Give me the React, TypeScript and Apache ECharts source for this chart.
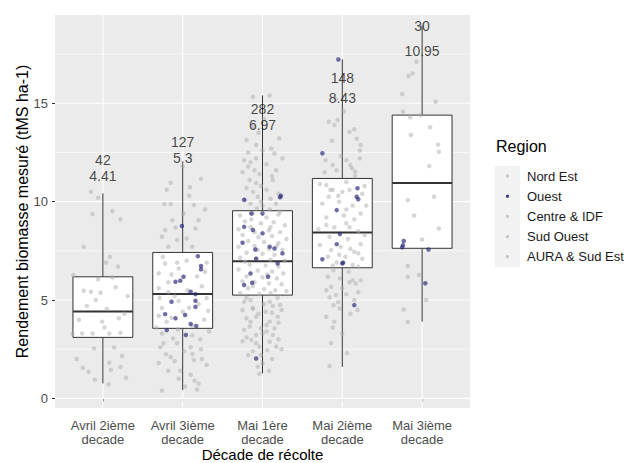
import React, { useEffect, useRef } from "react";
import * as echarts from "echarts";

// ---------- DATA ----------
const categories = [
  "Avril 2ième\ndecade",
  "Avril 3ième\ndecade",
  "Mai 1ère\ndecade",
  "Mai 2ième\ndecade",
  "Mai 3ième\ndecade",
];
const counts = [42, 127, 282, 148, 30];
const medians = [4.41, 5.3, 6.97, 8.43, 10.95];
const q1Values = [3.1, 3.56, 5.25, 6.64, 7.63];
const q3Values = [6.18, 7.42, 9.54, 11.18, 14.4];
const whiskerLow = [0.76, 0.42, 1.27, 1.6, 3.9];
const whiskerHigh = [10.42, 11.95, 15.4, 17.23, 18.95];
const countLabelY = [12.12, 13.02, 14.72, 16.27, 18.93];
const medianLabelY = [11.3, 12.2, 13.9, 15.25, 17.68];

const yTicks = [0, 5, 10, 15];
const yMinor = [2.5, 7.5, 12.5, 17.5];
const regions = ["Nord Est", "Ouest", "Centre & IDF", "Sud Ouest", "AURA & Sud Est"];
const xTitle = "Décade de récolte";
const yTitle = "Rendement biomasse mesuré (tMS ha-1)";
const legendTitle = "Region";

// jittered points: [horizontal jitter offset, yield]
const avril2Grey: [number, number][] = [
  [-0.15, 10.5], [-0.06, 10.2], [-0.13, 9.37], [0.12, 9.52], [0.22, 9.1], [-0.24, 7.7],
  [0.09, 7.2], [0.04, 6.9], [0.19, 6.7], [-0.37, 6.27], [0.12, 6.15], [-0.24, 5.47],
  [-0.15, 5.42], [-0.03, 5.37], [-0.09, 5.0], [0.2, 4.07], [-0.01, 3.9], [-0.38, 3.27],
  [-0.26, 3.3], [-0.13, 3.3], [0.08, 3.3], [0.22, 3.33], [-0.11, 2.54], [0.14, 2.59],
  [0.24, 2.15], [0.08, 1.81], [-0.25, 1.56], [-0.18, 1.35], [0.1, 1.44], [0.22, 1.6],
  [0.07, 0.71], [0.05, 4.55], [-0.2, 4.7], [0.27, 4.3], [-0.3, 4.0], [0.16, 5.65],
  [-0.06, 6.05], [0.31, 5.2], [-0.33, 2.0], [0.29, 1.05], [-0.1, 0.95], [0.02, 3.6],
];
const avril3Grey: [number, number][] = [
  [-0.15, 10.96], [0.23, 11.16], [0.09, 10.73], [-0.23, 9.88], [-0.15, 9.88], [0.14, 9.83],
  [0.01, 9.4], [-0.13, 9.06], [0.2, 9.06], [-0.22, 8.56], [-0.09, 8.69], [0.16, 8.64],
  [-0.26, 8.22], [-0.07, 8.05], [0.05, 8.13], [-0.18, 7.71], [0.12, 7.71], [-0.22, 6.86],
  [-0.07, 6.9], [0.28, 6.44], [-0.3, 6.36], [-0.14, 6.3], [-0.18, 5.9], [-0.29, 5.1],
  [-0.05, 4.95], [0.08, 4.6], [0.32, 4.45], [-0.3, 4.2], [-0.14, 4.1], [-0.26, 3.3],
  [-0.12, 3.05], [0.12, 3.2], [-0.24, 2.8], [-0.07, 2.8], [0.1, 2.6], [0.23, 2.5],
  [-0.21, 2.25], [0.12, 2.25], [-0.1, 1.9], [0.14, 1.95], [0.24, 2.0], [-0.18, 1.4],
  [-0.03, 1.4], [0.1, 1.2], [-0.26, 0.4], [0.03, 0.6], [0.18, 0.45], [0.2, 0.75],
  [0.05, 7.0], [-0.25, 7.2], [0.3, 6.9], [-0.05, 6.6], [0.18, 6.2], [-0.3, 5.6],
  [0.24, 5.7], [-0.18, 5.4], [0.06, 5.5], [0.3, 5.1], [-0.1, 5.2], [0.2, 4.8],
  [-0.26, 4.6], [0.0, 4.4], [0.27, 4.0], [-0.2, 3.9], [0.12, 3.7], [-0.33, 3.6],
  [0.33, 3.4], [-0.06, 3.5], [0.22, 3.0], [-0.28, 2.6], [0.02, 2.4], [-0.15, 2.1],
  [0.3, 1.7], [-0.05, 1.0], [0.15, 0.9], [-0.3, 1.8], [0.08, 10.3], [-0.2, 10.6],
  [0.28, 9.6], [0.0, 11.8],
];
const avril3Blue: [number, number][] = [
  [-0.01, 8.76], [0.19, 7.23], [0.23, 6.73], [0.23, 6.56], [0.01, 6.18], [-0.09, 5.93],
  [-0.03, 5.98], [0.1, 5.42], [0.16, 5.3], [-0.14, 4.91], [0.16, 4.96], [0.16, 4.65],
  [-0.22, 4.28], [0.03, 4.24], [-0.09, 4.07], [0.1, 3.78], [0.17, 3.68], [-0.2, 3.47],
  [0.04, 3.22],
];
const mai1Grey: [number, number][] = [
  [-0.12, 15.33], [0.09, 15.4], [-0.2, 13.13], [0.21, 13.22], [-0.08, 12.88], [0.11, 12.7],
  [-0.23, 12.11], [-0.15, 12.0], [-0.08, 12.2], [0.15, 12.45], [0.25, 12.2], [-0.18, 11.78],
  [-0.1, 11.6], [-0.25, 11.5], [-0.04, 11.4], [0.17, 11.6], [-0.16, 11.1], [-0.08, 10.95],
  [-0.02, 10.8], [0.13, 11.1], [-0.2, 10.7], [-0.12, 10.5], [0.05, 10.6], [-0.06, 10.25],
  [0.1, 10.15], [-0.15, 9.9], [0.0, 9.8], [0.17, 9.9], [-0.07, 9.65], [0.09, 9.6],
  [-0.05, 13.5], [0.02, 14.2], [-0.18, 12.5], [0.05, 11.9], [0.2, 10.4], [-0.22, 10.1],
  [0.0, 12.6], [-0.12, 13.8], [0.12, 11.3], [-0.02, 10.0],
  [-0.28, 9.3], [-0.12, 9.4], [0.05, 9.2], [0.2, 9.35], [-0.22, 9.0], [-0.02, 8.9],
  [0.14, 8.95], [0.28, 8.8], [-0.3, 8.6], [-0.15, 8.7], [0.08, 8.55], [0.22, 8.45],
  [-0.25, 8.3], [-0.05, 8.2], [0.12, 8.25], [0.3, 8.1], [-0.18, 8.0], [0.02, 7.95],
  [0.2, 7.9], [-0.3, 7.7], [-0.1, 7.75], [0.08, 7.6], [0.25, 7.55], [-0.2, 7.4],
  [0.0, 7.35], [0.15, 7.3], [-0.28, 7.15], [-0.08, 7.1], [0.1, 7.05], [0.28, 7.0],
  [-0.16, 6.8], [0.04, 6.75], [0.2, 6.7], [-0.3, 6.55], [-0.06, 6.5], [0.12, 6.45],
  [0.26, 6.35], [-0.2, 6.2], [0.0, 6.15], [0.18, 6.1], [-0.25, 5.95], [-0.1, 5.9],
  [0.08, 5.85], [0.24, 5.8], [-0.18, 5.6], [0.02, 5.55], [0.16, 5.5], [0.3, 5.45],
  [-0.28, 5.35], [-0.04, 5.3], [0.1, 5.35], [-0.14, 9.1], [0.1, 8.7], [-0.1, 8.45],
  [0.18, 7.75], [-0.22, 6.95], [0.06, 6.3], [-0.12, 5.7], [0.22, 9.5], [-0.06, 7.55],
  [-0.23, 4.91], [-0.15, 5.0], [0.09, 4.91], [0.19, 5.1], [-0.25, 4.49], [-0.12, 4.6],
  [0.13, 4.7], [0.24, 4.49], [-0.2, 4.07], [-0.08, 4.15], [0.09, 3.9], [0.19, 4.15],
  [-0.16, 3.65], [0.05, 3.73], [0.15, 3.56], [-0.23, 3.48], [-0.08, 3.22], [0.13, 3.22],
  [-0.14, 2.97], [0.09, 2.88], [-0.04, 2.63], [0.17, 2.63], [-0.02, 2.2], [0.24, 2.5],
  [0.0, 1.78], [-0.04, 1.25], [-0.12, 2.4], [0.05, 3.4],
  [-0.2, 5.1], [0.02, 4.8], [0.22, 4.75], [-0.05, 4.3], [0.04, 4.4], [-0.15, 3.9],
  [0.2, 3.85], [-0.02, 3.55], [-0.2, 3.1], [0.2, 3.0], [-0.08, 2.8], [0.06, 2.45],
  [-0.18, 2.2], [0.12, 2.0], [-0.06, 1.6], [0.08, 1.4], [-0.12, 4.55], [0.12, 4.35],
  [0.0, 3.3], [-0.25, 2.9],
];
const mai1Blue: [number, number][] = [
  [-0.23, 10.09], [0.22, 10.22], [0.23, 10.3], [-0.14, 9.4], [0.0, 9.4], [-0.23, 8.72],
  [-0.12, 8.56], [0.0, 8.39], [-0.25, 7.91], [-0.09, 7.57], [0.09, 7.71], [0.15, 7.62],
  [0.25, 7.37], [-0.08, 7.1], [0.19, 6.86], [-0.15, 6.35], [0.07, 6.18], [-0.23, 5.76],
  [-0.13, 5.88], [-0.08, 2.03],
];
const mai2Grey: [number, number][] = [
  [-0.17, 14.06], [-0.06, 14.15], [0.15, 13.68], [0.09, 13.55], [-0.13, 13.1], [0.23, 12.88],
  [0.22, 12.6], [-0.21, 12.11], [-0.02, 12.32], [-0.12, 11.86], [0.05, 12.11], [0.1, 11.86],
  [-0.07, 11.6], [0.16, 11.52], [0.16, 11.3], [-0.2, 10.84], [-0.12, 10.59], [0.0, 10.5],
  [0.09, 10.6], [-0.17, 10.25], [-0.04, 10.0], [0.13, 9.8], [0.23, 9.4], [0.05, 9.6],
  [-0.2, 8.81], [-0.1, 8.7], [0.09, 8.7], [0.2, 8.5], [-0.16, 8.21], [0.07, 8.1],
  [0.23, 7.84], [-0.14, 7.54], [0.15, 7.45], [0.2, 7.37], [-0.18, 7.2], [0.04, 7.2],
  [-0.07, 6.9], [0.13, 6.78], [-0.11, 6.52], [0.08, 6.44], [-0.18, 6.18], [-0.03, 6.1],
  [0.13, 6.0], [0.23, 6.0], [-0.14, 5.67], [0.0, 5.59], [0.17, 5.84], [0.09, 5.9],
  [-0.16, 5.13], [-0.08, 5.25], [-0.11, 4.74], [-0.03, 4.57], [-0.2, 4.15], [0.19, 4.49],
  [-0.16, 1.64],
  [-0.28, 10.9], [0.28, 10.8], [-0.05, 10.3], [0.25, 10.4], [-0.25, 9.9], [0.02, 9.3],
  [-0.2, 9.2], [0.15, 9.1], [-0.3, 8.6], [0.28, 8.3], [-0.02, 7.7], [0.1, 7.6],
  [-0.28, 7.8], [0.25, 7.1], [-0.04, 7.3], [0.2, 6.7], [-0.12, 6.75], [0.05, 8.9],
  [0.3, 9.8], [-0.15, 10.6],
  [0.05, 5.3], [-0.2, 5.5], [0.2, 5.4], [-0.05, 4.9], [0.1, 4.3], [-0.1, 3.9],
  [0.0, 3.3], [-0.14, 2.8], [0.06, 2.3], [-0.12, 3.6], [0.15, 5.0],
  [0.02, 14.6], [-0.1, 13.9], [0.18, 13.2], [-0.22, 11.5], [0.05, 11.0], [0.22, 12.2],
  [-0.08, 15.2], [0.12, 11.7],
];
const mai2Blue: [number, number][] = [
  [-0.05, 17.23], [-0.25, 12.46], [0.19, 10.68], [0.18, 10.25], [0.2, 10.12], [-0.07, 9.57],
  [-0.03, 8.35], [-0.07, 7.84], [-0.25, 7.07], [0.0, 6.86], [0.15, 4.74], [0.01, 6.9],
];
const mai3Grey: [number, number][] = [
  [-0.07, 17.11], [-0.12, 16.52], [-0.17, 16.39], [-0.25, 15.47], [0.17, 15.08], [-0.24, 14.57],
  [-0.15, 14.29], [-0.02, 14.4], [0.1, 13.78], [-0.14, 13.39], [0.21, 12.54], [0.09, 11.81],
  [-0.18, 10.08], [0.15, 10.25], [0.21, 8.64], [0.0, 8.08], [-0.18, 6.73], [-0.18, 6.18],
  [-0.04, 6.27], [-0.23, 4.52], [-0.18, 3.89], [0.0, 18.95], [0.2, 12.9], [-0.1, 9.3],
  [0.05, 5.0],
];
const mai3Blue: [number, number][] = [
  [-0.23, 8.0], [-0.24, 7.79], [-0.25, 7.68], [0.08, 7.57], [0.04, 5.85],
];

const greyGroups = [avril2Grey, avril3Grey, mai1Grey, mai2Grey, mai3Grey];
const blueGroups: [number, number][][] = [[], avril3Blue, mai1Blue, mai2Blue, mai3Blue];

// ---------- STYLE ----------
const FONT = "Liberation Sans, Arial, sans-serif";
const GREY_PT = "rgba(172,172,172,0.62)";
const BLUE_PT = "rgba(42,42,122,0.85)";

export default function App() {
  const ref = useRef<HTMLDivElement>(null);

  useEffect(() => {
    if (!ref.current) return;
    const chart = echarts.init(ref.current, undefined, { renderer: "svg" });

    const toPoints = (groups: [number, number][][]) =>
      groups.flatMap((g, i) => g.map(([dx, y]) => [i + 1 + dx, y]));

    const boxData = categories.map((_, i) => [
      i + 1,
      whiskerLow[i],
      q1Values[i],
      medians[i],
      q3Values[i],
      whiskerHigh[i],
    ]);

    const labelData = [
      ...categories.map((_, i) => [i + 1, countLabelY[i], String(counts[i])]),
      ...categories.map((_, i) => [i + 1, medianLabelY[i], String(medians[i])]),
    ];

    const option: any = {
      animation: false,
      grid: {
        left: 55,
        top: 15,
        width: 415,
        height: 393,
        show: true,
        backgroundColor: "#EBEBEB",
        borderWidth: 0,
        containLabel: false,
        outerBoundsMode: "none",
      },
      xAxis: {
        type: "value",
        min: 0.4,
        max: 5.6,
        axisLine: { show: false },
        splitLine: { show: false },
        axisTick: {
          show: true,
          customValues: [1, 2, 3, 4, 5],
          length: 3,
          lineStyle: { color: "#333333", width: 1 },
        },
        axisLabel: {
          customValues: [1, 2, 3, 4, 5],
          formatter: (v: number) => categories[Math.round(v) - 1] ?? "",
          color: "#4D4D4D",
          fontSize: 13,
          fontFamily: FONT,
          lineHeight: 14,
          margin: 10,
        },
      },
      yAxis: {
        type: "value",
        min: -0.49,
        max: 19.49,
        axisLine: { show: false },
        splitLine: { show: false },
        axisTick: {
          show: true,
          customValues: yTicks,
          length: 3,
          lineStyle: { color: "#333333", width: 1 },
        },
        axisLabel: {
          customValues: yTicks,
          color: "#4D4D4D",
          fontSize: 13,
          fontFamily: FONT,
          margin: 7,
        },
      },
      series: [
        {
          type: "custom",
          z: 1,
          silent: true,
          data: [[1, 0]],
          renderItem: (params: any, api: any) => {
            const cs = params.coordSys;
            const children: any[] = [];
            yMinor.forEach((v) => {
              const y = api.coord([1, v])[1];
              children.push({
                type: "line",
                shape: { x1: cs.x, y1: y, x2: cs.x + cs.width, y2: y },
                style: { stroke: "#FFFFFF", lineWidth: 0.6 },
              });
            });
            yTicks.forEach((v) => {
              const y = api.coord([1, v])[1];
              children.push({
                type: "line",
                shape: { x1: cs.x, y1: y, x2: cs.x + cs.width, y2: y },
                style: { stroke: "#FFFFFF", lineWidth: 1.1 },
              });
            });
            categories.forEach((_, i) => {
              const x = api.coord([i + 1, 0])[0];
              children.push({
                type: "line",
                shape: { x1: x, y1: cs.y, x2: x, y2: cs.y + cs.height },
                style: { stroke: "#FFFFFF", lineWidth: 1.1 },
              });
            });
            return { type: "group", children };
          },
        },
        {
          type: "custom",
          z: 2,
          silent: true,
          data: boxData,
          encode: { x: 0, y: [1, 2, 3, 4, 5] },
          renderItem: (_params: any, api: any) => {
            const x = api.value(0);
            const pLow = api.coord([x, api.value(1)]);
            const pQ1 = api.coord([x, api.value(2)]);
            const pMed = api.coord([x, api.value(3)]);
            const pQ3 = api.coord([x, api.value(4)]);
            const pHigh = api.coord([x, api.value(5)]);
            const half = api.size([0.75, 0])[0] / 2;
            const cx = pMed[0];
            const stroke = "#333333";
            return {
              type: "group",
              children: [
                {
                  type: "line",
                  shape: { x1: cx, y1: pHigh[1], x2: cx, y2: pQ3[1] },
                  style: { stroke, lineWidth: 1 },
                },
                {
                  type: "line",
                  shape: { x1: cx, y1: pQ1[1], x2: cx, y2: pLow[1] },
                  style: { stroke, lineWidth: 1 },
                },
                {
                  type: "rect",
                  shape: { x: cx - half, y: pQ3[1], width: half * 2, height: pQ1[1] - pQ3[1] },
                  style: { fill: "#FFFFFF", stroke, lineWidth: 1 },
                },
                {
                  type: "line",
                  shape: { x1: cx - half, y1: pMed[1], x2: cx + half, y2: pMed[1] },
                  style: { stroke, lineWidth: 2 },
                },
              ],
            };
          },
        },
        {
          type: "scatter",
          name: "Autres régions",
          z: 3,
          silent: true,
          symbolSize: 4.5,
          itemStyle: { color: GREY_PT },
          data: toPoints(greyGroups),
        },
        {
          type: "scatter",
          name: "Ouest",
          z: 4,
          silent: true,
          symbolSize: 4.5,
          itemStyle: { color: BLUE_PT },
          data: toPoints(blueGroups),
        },
        {
          type: "scatter",
          z: 5,
          silent: true,
          symbolSize: 1,
          itemStyle: { color: "rgba(0,0,0,0)" },
          data: labelData,
          label: {
            show: true,
            position: "inside",
            formatter: (p: any) => p.value[2],
            color: "#1A1A1A",
            fontSize: 14,
            lineHeight: 12,
            fontFamily: FONT,
          },
        },
      ],
      graphic: [
        {
          type: "text",
          x: 262.5,
          y: 454,
          style: {
            text: xTitle,
            fill: "#000",
            fontSize: 15,
            fontFamily: FONT,
            align: "center",
            verticalAlign: "middle",
          },
        },
        {
          type: "text",
          x: 22,
          y: 211.5,
          rotation: Math.PI / 2,
          style: {
            text: yTitle,
            fill: "#000",
            fontSize: 16,
            fontFamily: FONT,
            align: "center",
            verticalAlign: "middle",
          },
        },
        {
          type: "text",
          x: 496,
          y: 146,
          style: {
            text: legendTitle,
            fill: "#000",
            fontSize: 16,
            fontFamily: FONT,
            verticalAlign: "middle",
            align: "left",
          },
        },
        {
          type: "rect",
          shape: { x: 495, y: 166, width: 25, height: 101 },
          style: { fill: "#F2F2F2" },
        },
        ...regions.flatMap((r, i) => {
          const cy = 176 + i * 20.2;
          return [
            {
              type: "circle",
              shape: { cx: 507.5, cy, r: 1.7 },
              style: { fill: r === "Ouest" ? BLUE_PT : GREY_PT },
            },
            {
              type: "text",
              x: 527,
              y: cy,
              style: {
                text: r,
                fill: "#1A1A1A",
                fontSize: 13,
                fontFamily: FONT,
                verticalAlign: "middle",
                align: "left",
              },
            },
          ];
        }),
      ],
    };

    chart.setOption(option);
    return () => chart.dispose();
  }, []);

  return (
    <div
      ref={ref}
      style={{ position: "fixed", left: 0, top: 0, width: 629, height: 463, background: "#fff" }}
    />
  );
}
